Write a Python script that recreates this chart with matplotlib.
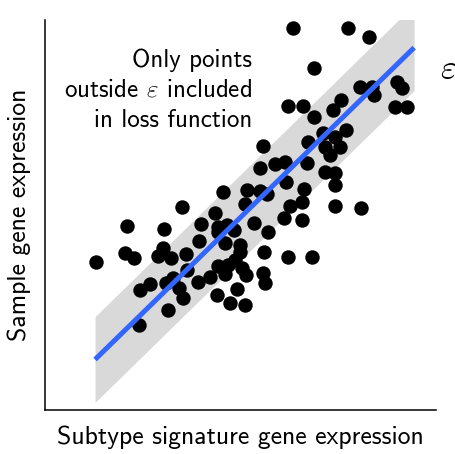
import matplotlib
matplotlib.use("Agg")
import matplotlib.pyplot as plt
import numpy as np

plt.rcParams["font.family"] = ["cmss10", "DejaVu Sans"]
plt.rcParams["mathtext.fontset"] = "cm"
plt.rcParams["axes.unicode_minus"] = False

# signature expression (x) vs sample expression (y), arbitrary units
sig_expr = [
    6.34, 7.75, 8.29, 6.88, 9.00, 9.13, 8.95, 9.26, 8.06, 8.36,
    8.41, 7.57, 7.37, 6.21, 6.60, 6.88, 7.70, 7.11, 7.42, 7.54,
    7.16, 7.29, 6.73, 5.58, 6.14, 5.88, 5.50, 6.70, 6.16, 6.62,
    7.16, 7.42, 7.42, 7.42, 8.08, 6.27, 6.57, 6.11, 6.57, 5.35,
    5.17, 5.50, 5.68, 5.12, 4.55, 5.70, 4.83, 3.50, 4.35, 2.10,
    3.04, 3.99, 4.42, 4.65, 1.30, 2.05, 2.28, 3.02, 2.89, 3.22,
    3.61, 3.94, 4.42, 4.60, 4.99, 4.99, 5.60, 6.21, 6.83, 4.42,
    4.68, 4.86, 5.04, 4.22, 4.60, 5.14, 5.58, 5.63, 3.91, 3.63,
    4.40, 4.91, 4.73, 5.12, 2.43, 2.69, 3.09, 3.27, 3.43, 3.53,
    3.15, 2.40,
]
sample_expr = [
    9.79, 9.79, 9.56, 8.77, 8.41, 8.26, 7.77, 7.77, 8.28, 8.28,
    8.08, 7.95, 7.69, 7.79, 7.79, 7.51, 7.18, 7.10, 7.00, 6.74,
    6.74, 6.54, 6.87, 6.77, 6.36, 6.31, 6.21, 6.33, 5.85, 5.67,
    6.10, 6.08, 5.77, 5.23, 5.18, 5.23, 5.33, 4.92, 4.87, 4.79,
    5.64, 5.62, 5.54, 5.28, 5.59, 4.56, 4.62, 5.21, 5.05, 4.72,
    4.64, 4.77, 4.69, 4.74, 3.79, 4.03, 3.90, 4.15, 3.95, 3.90,
    4.00, 4.33, 4.56, 4.28, 4.23, 4.05, 4.05, 3.92, 3.92, 3.69,
    3.72, 3.85, 3.64, 3.41, 3.49, 3.46, 3.51, 3.26, 3.28, 3.59,
    2.95, 3.10, 2.74, 2.69, 3.08, 3.23, 3.26, 3.38, 3.13, 2.87,
    2.56, 2.18,
]

# fitted regression line and epsilon-insensitive tube
slope = 0.98
intercept = 0.04
epsilon = 1.10
fit_range = [1.28, 9.44]

fig = plt.figure(figsize=(4.55, 4.54), dpi=100)
ax = fig.add_axes([45 / 455, 44 / 454, 391 / 455, 390 / 454])

xs = np.array(fit_range)
ys = slope * xs + intercept
ax.fill_between(xs, ys - epsilon, ys + epsilon, color="#d9d9d9", lw=0, zorder=1)
ax.scatter(sig_expr, sample_expr, s=108, color="black", linewidths=0, zorder=2)
ax.plot(xs, ys, color="#3366ff", lw=3.6, solid_capstyle="butt", zorder=3)

ax.text(5.29, 8.2, "Only points\noutside $\\varepsilon$ included\nin loss function",
        ha="right", va="center", multialignment="right", fontsize=18,
        linespacing=1.38)
ax.text(10.31, 8.72, "$\\varepsilon$", ha="center", va="center",
        fontsize=25, clip_on=False)

ax.set_xlim(0, 10)
ax.set_ylim(0, 10)
ax.set_xticks([])
ax.set_yticks([])
for side in ("top", "right"):
    ax.spines[side].set_visible(False)
for side in ("left", "bottom"):
    ax.spines[side].set_linewidth(1.1)

ax.set_xlabel("Subtype signature gene expression", fontsize=18.5, labelpad=11)
ax.set_ylabel("Sample gene expression", fontsize=18.5, labelpad=10)

fig.savefig("out.png", dpi=100)
